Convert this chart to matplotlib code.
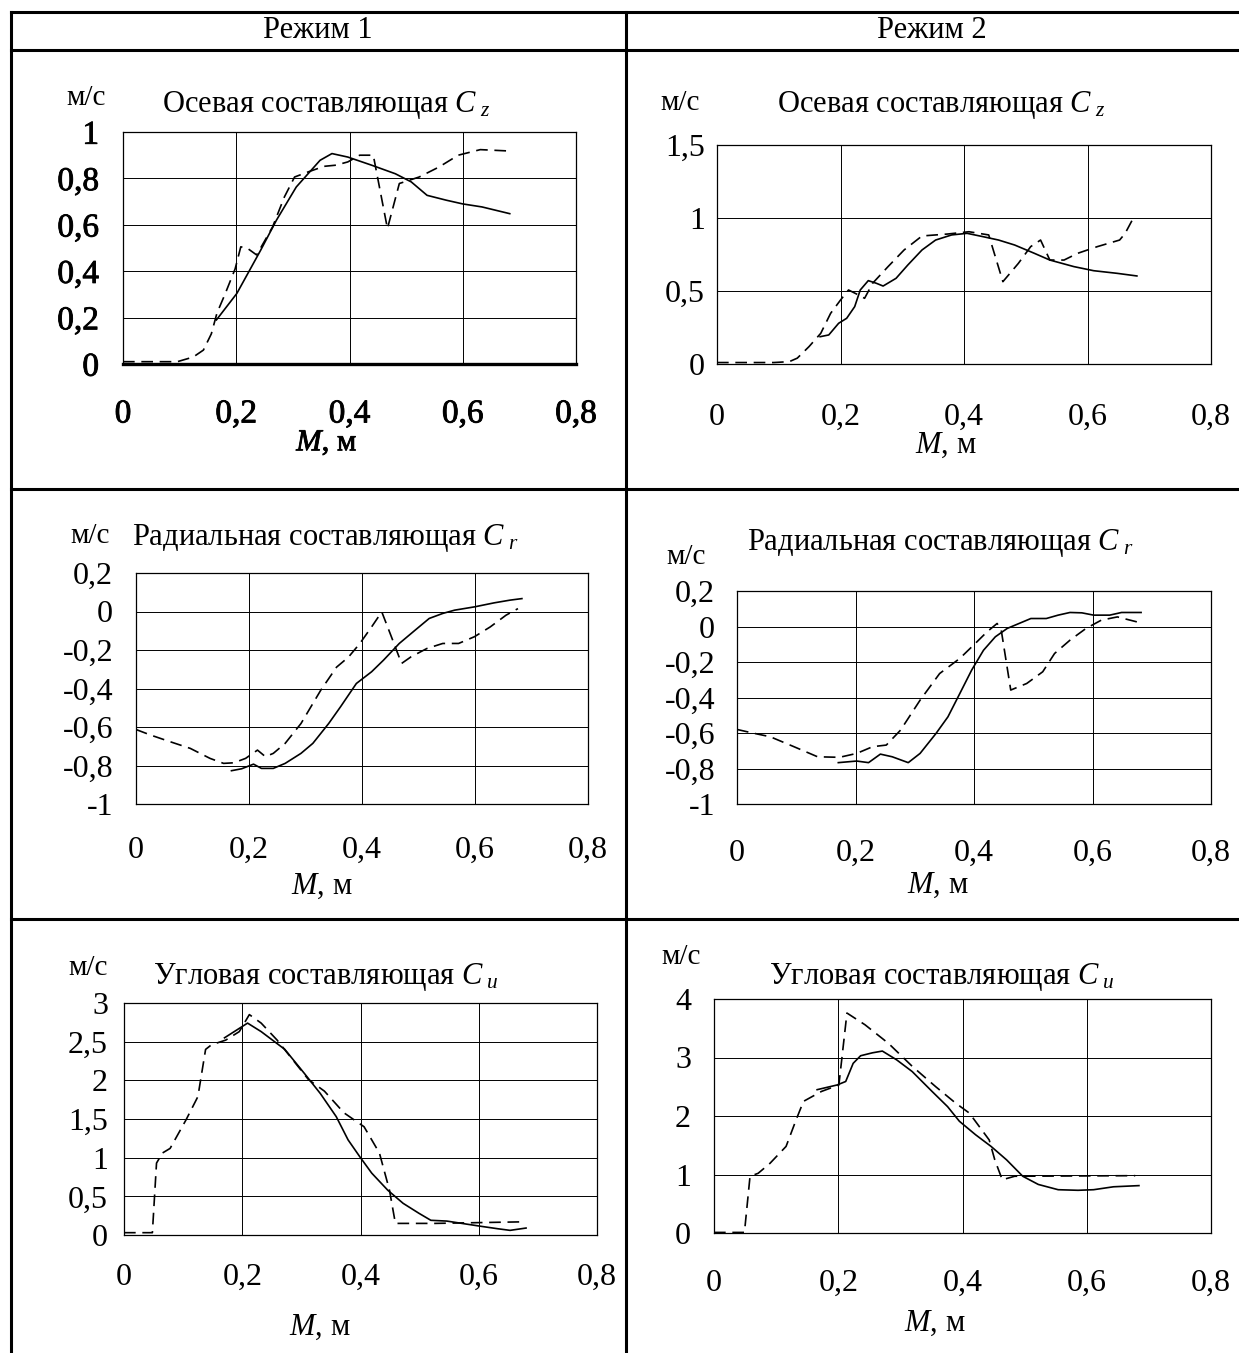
import matplotlib
matplotlib.use("Agg")
import matplotlib.pyplot as plt
from matplotlib.lines import Line2D
import matplotlib.patheffects as pe

plt.rcParams['font.family'] = ['Liberation Serif', 'DejaVu Serif']
plt.rcParams['mathtext.fontset'] = 'custom'
plt.rcParams['mathtext.rm'] = 'Liberation Serif'
plt.rcParams['mathtext.it'] = 'Liberation Serif:italic'

W, H = 1239, 1353

# ---- data ----
headers = ["Режим 1", "Режим 2"]
xticks = [0, 0.2, 0.4, 0.6, 0.8]

# Режим 1, осевая
cz1_sol_x = [0.165, 0.201, 0.243, 0.271, 0.306, 0.348, 0.369, 0.397, 0.439, 0.481, 0.509, 0.537, 0.571, 0.6, 0.634, 0.683]
cz1_sol_y = [0.19, 0.304, 0.49, 0.62, 0.763, 0.878, 0.907, 0.892, 0.857, 0.82, 0.785, 0.727, 0.706, 0.69, 0.677, 0.648]
cz1_dash_x = [0, 0.096, 0.124, 0.142, 0.156, 0.166, 0.18, 0.198, 0.208, 0.219, 0.236, 0.264, 0.285, 0.303, 0.327, 0.355,
              0.376, 0.397, 0.418, 0.442, 0.467, 0.488, 0.523, 0.558, 0.592, 0.631, 0.683]
cz1_dash_y = [0.01, 0.01, 0.03, 0.06, 0.13, 0.22, 0.30, 0.41, 0.505, 0.5, 0.47, 0.59, 0.72, 0.806, 0.828, 0.852,
              0.857, 0.871, 0.9, 0.9, 0.584, 0.778, 0.806, 0.849, 0.9, 0.924, 0.918]

# Режим 2, осевая
cz2_sol_x = [0.167, 0.181, 0.197, 0.21, 0.223, 0.232, 0.245, 0.258, 0.269, 0.29, 0.309, 0.332, 0.354, 0.38, 0.405,
             0.431, 0.456, 0.482, 0.514, 0.539, 0.578, 0.61, 0.648, 0.68]
cz2_sol_y = [0.187, 0.199, 0.279, 0.313, 0.393, 0.507, 0.571, 0.553, 0.534, 0.587, 0.678, 0.781, 0.849, 0.884, 0.895,
             0.872, 0.849, 0.815, 0.758, 0.712, 0.667, 0.639, 0.621, 0.603]
cz2_dash_x = [0, 0.092, 0.117, 0.13, 0.149, 0.168, 0.184, 0.2, 0.213, 0.229, 0.239, 0.252, 0.277, 0.303, 0.332, 0.373,
              0.408, 0.44, 0.463, 0.488, 0.508, 0.524, 0.539, 0.562, 0.584, 0.616, 0.652, 0.661, 0.674]
cz2_dash_y = [0.01, 0.01, 0.016, 0.04, 0.119, 0.21, 0.347, 0.438, 0.507, 0.473, 0.45, 0.553, 0.667, 0.781, 0.877, 0.89,
              0.906, 0.884, 0.564, 0.689, 0.804, 0.849, 0.712, 0.712, 0.758, 0.804, 0.849, 0.895, 0.998]

# Режим 1, радиальная
cr1_sol_x = [0.169, 0.187, 0.208, 0.222, 0.243, 0.264, 0.292, 0.313, 0.341, 0.362, 0.39, 0.417, 0.438, 0.466, 0.494,
             0.519, 0.543, 0.564, 0.599, 0.634, 0.662, 0.683]
cr1_sol_y = [-0.827, -0.817, -0.793, -0.815, -0.815, -0.789, -0.737, -0.685, -0.582, -0.495, -0.374, -0.313, -0.253,
             -0.166, -0.097, -0.036, -0.01, 0.007, 0.024, 0.045, 0.059, 0.067]
cr1_dash_x = [0, 0.026, 0.061, 0.096, 0.131, 0.155, 0.173, 0.194, 0.215, 0.229, 0.243, 0.264, 0.292, 0.327, 0.355,
              0.376, 0.396, 0.417, 0.435, 0.452, 0.47, 0.487, 0.515, 0.543, 0.571, 0.599, 0.627, 0.655, 0.676]
cr1_dash_y = [-0.613, -0.642, -0.677, -0.711, -0.763, -0.789, -0.786, -0.763, -0.72, -0.754, -0.737, -0.685, -0.582,
              -0.409, -0.289, -0.237, -0.167, -0.08, -0.002, -0.131, -0.27, -0.235, -0.192, -0.166, -0.166, -0.131,
              -0.08, -0.019, 0.015]

# Режим 2, радиальная
cr2_sol_x = [0.171, 0.202, 0.222, 0.242, 0.262, 0.289, 0.309, 0.336, 0.356, 0.376, 0.396, 0.416, 0.436, 0.456, 0.476,
             0.496, 0.522, 0.542, 0.562, 0.582, 0.602, 0.629, 0.649, 0.682]
cr2_sol_y = [-0.767, -0.758, -0.767, -0.719, -0.734, -0.767, -0.715, -0.602, -0.509, -0.378, -0.246, -0.134, -0.058,
             -0.011, 0.017, 0.045, 0.045, 0.064, 0.079, 0.077, 0.064, 0.064, 0.079, 0.079]
cr2_dash_x = [0, 0.029, 0.056, 0.096, 0.136, 0.173, 0.202, 0.229, 0.252, 0.276, 0.309, 0.342, 0.376, 0.402, 0.422,
              0.439, 0.446, 0.462, 0.489, 0.516, 0.536, 0.562, 0.589, 0.615, 0.642, 0.675]
cr2_dash_y = [-0.58, -0.602, -0.621, -0.677, -0.734, -0.737, -0.715, -0.677, -0.668, -0.584, -0.415, -0.265, -0.18,
              -0.096, -0.03, 0.017, -0.021, -0.358, -0.321, -0.255, -0.152, -0.077, -0.011, 0.036, 0.054, 0.026]

# Режим 1, угловая
cu1_sol_x = [0.17, 0.209, 0.232, 0.272, 0.305, 0.332, 0.359, 0.379, 0.399, 0.419, 0.446, 0.472, 0.499, 0.519, 0.546,
             0.58, 0.606, 0.633, 0.653, 0.68]
cu1_sol_y = [2.55, 2.74, 2.63, 2.40, 2.09, 1.83, 1.53, 1.23, 1.01, 0.80, 0.58, 0.41, 0.28, 0.19, 0.18, 0.14, 0.11,
             0.08, 0.06, 0.09]
cu1_dash_x = [0, 0.048, 0.055, 0.065, 0.078, 0.105, 0.125, 0.138, 0.148, 0.172, 0.195, 0.212, 0.232, 0.259, 0.285,
              0.312, 0.339, 0.372, 0.406, 0.432, 0.449, 0.459, 0.526, 0.673]
cu1_dash_y = [0.03, 0.03, 0.93, 1.06, 1.12, 1.49, 1.79, 2.40, 2.46, 2.52, 2.63, 2.85, 2.74, 2.52, 2.27, 2.01, 1.86,
              1.58, 1.40, 1.06, 0.58, 0.15, 0.15, 0.17]

# Режим 2, угловая
cu2_sol_x = [0.166, 0.198, 0.212, 0.224, 0.236, 0.255, 0.271, 0.294, 0.319, 0.351, 0.376, 0.395, 0.421, 0.446, 0.471,
             0.497, 0.522, 0.554, 0.586, 0.611, 0.643, 0.684]
cu2_sol_y = [2.45, 2.53, 2.59, 2.90, 3.03, 3.08, 3.11, 2.96, 2.76, 2.42, 2.16, 1.91, 1.68, 1.48, 1.25, 0.97, 0.83,
             0.74, 0.73, 0.74, 0.79, 0.81]
cu2_dash_x = [0, 0.049, 0.058, 0.071, 0.09, 0.116, 0.132, 0.144, 0.173, 0.201, 0.214, 0.243, 0.281, 0.319, 0.357,
              0.389, 0.411, 0.443, 0.452, 0.464, 0.484, 0.678]
cu2_dash_y = [0.01, 0.01, 0.97, 1.02, 1.19, 1.48, 1.93, 2.25, 2.42, 2.53, 3.76, 3.56, 3.24, 2.85, 2.50, 2.22, 2.05,
              1.59, 1.25, 0.91, 0.97, 0.98]

yt_cz1 = [0, 0.2, 0.4, 0.6, 0.8, 1]
yt_cz2 = [0, 0.5, 1, 1.5]
yt_cr = [-1, -0.8, -0.6, -0.4, -0.2, 0, 0.2]
yt_cu1 = [0, 0.5, 1, 1.5, 2, 2.5, 3]
yt_cu2 = [0, 1, 2, 3, 4]

t_z = "Осевая составляющая $C_{\\ z}$"
t_r = "Радиальная составляющая $C_{\\ r}$"
t_u = "Угловая составляющая $C_{\\ u}$"

# ---- layout in pixels: box=(left, right, top, bottom) ----
panels = [
    dict(box=(123, 576, 132, 364), yt=yt_cz1, title=t_z, tpos=(326, 105), upos=(86, 98), xlpos=(327, 443),
         xoff=52, ygap=24, sol=(cz1_sol_x, cz1_sol_y), dash=(cz1_dash_x, cz1_dash_y), bold=True),
    dict(box=(717, 1211, 145, 364), yt=yt_cz2, title=t_z, tpos=(941, 105), upos=(680, 103), xlpos=(946, 445),
         xoff=56, ygap=12, sol=(cz2_sol_x, cz2_sol_y), dash=(cz2_dash_x, cz2_dash_y), bold=False),
    dict(box=(136, 588, 573, 804), yt=yt_cr, title=t_r, tpos=(325, 538), upos=(90, 536), xlpos=(322, 886),
         xoff=49, ygap=23, sol=(cr1_sol_x, cr1_sol_y), dash=(cr1_dash_x, cr1_dash_y), bold=False),
    dict(box=(737, 1211, 591, 804), yt=yt_cr, title=t_r, tpos=(940, 543), upos=(686, 557), xlpos=(938, 885),
         xoff=52, ygap=22, sol=(cr2_sol_x, cr2_sol_y), dash=(cr2_dash_x, cr2_dash_y), bold=False),
    dict(box=(124, 597, 1003, 1235), yt=yt_cu1, title=t_u, tpos=(326, 977), upos=(88, 968), xlpos=(320, 1327),
         xoff=45, ygap=16, sol=(cu1_sol_x, cu1_sol_y), dash=(cu1_dash_x, cu1_dash_y), bold=False),
    dict(box=(714, 1211, 999, 1233), yt=yt_cu2, title=t_u, tpos=(942, 977), upos=(681, 957), xlpos=(935, 1323),
         xoff=53, ygap=23, sol=(cu2_sol_x, cu2_sol_y), dash=(cu2_dash_x, cu2_dash_y), bold=False),
]


def fmt(v):
    return ("%g" % v).replace(".", ",")


def fx(px):
    return px / W


def fy(py):
    return 1 - py / H


fig = plt.figure(figsize=(W / 100, H / 100), dpi=100)
fig.patch.set_facecolor("white")

# table frame
tlw = 2.2
for y in [12, 50, 489, 919]:
    fig.add_artist(Line2D([fx(11), 1.0], [fy(y), fy(y)], color="black", lw=tlw))
fig.add_artist(Line2D([fx(11), fx(11)], [fy(12), 0], color="black", lw=tlw))
fig.add_artist(Line2D([fx(626), fx(626)], [fy(12), 0], color="black", lw=tlw))
fig.text(fx(318), fy(31), headers[0], ha="center", va="center", fontsize=22)
fig.text(fx(932), fy(31), headers[1], ha="center", va="center", fontsize=22)

for p in panels:
    l, r, t, b = p["box"]
    ax = fig.add_axes([fx(l), fy(b), (r - l) / W, (b - t) / H])
    ax.plot(p["sol"][0], p["sol"][1], color="black", lw=1.2)
    ax.plot(p["dash"][0], p["dash"][1], color="black", lw=1.2, ls=(0, (7, 4)))
    ax.set_xlim(0, 0.8)
    ax.set_ylim(p["yt"][0], p["yt"][-1])
    ax.set_xticks(xticks, [fmt(v) for v in xticks])
    ax.set_yticks(p["yt"], [fmt(v) for v in p["yt"]])
    ax.grid(True, color="black", lw=0.7)
    ax.tick_params(length=0, labelsize=24 if p["bold"] else 23)
    ax.tick_params(axis="x", pad=(p["xoff"] - 17) * 0.72)
    ax.tick_params(axis="y", pad=p["ygap"] * 0.72)
    for s in ax.spines.values():
        s.set_linewidth(0.9)
    xl = fig.text(fx(p["xlpos"][0]), fy(p["xlpos"][1]), "$M$, м", ha="center", va="center", fontsize=22)
    if p["bold"]:
        ax.spines["bottom"].set_linewidth(2.4)
        eff = [pe.withStroke(linewidth=0.6, foreground="black")]
        for lab in ax.get_xticklabels() + ax.get_yticklabels():
            lab.set_path_effects(eff)
        xl.set_path_effects(eff)
    fig.text(fx(p["tpos"][0]), fy(p["tpos"][1]), p["title"], ha="center", va="center", fontsize=22)
    fig.text(fx(p["upos"][0]), fy(p["upos"][1]), "м/с", ha="center", va="center", fontsize=21)

fig.savefig("out.png", dpi=100, facecolor="white")
